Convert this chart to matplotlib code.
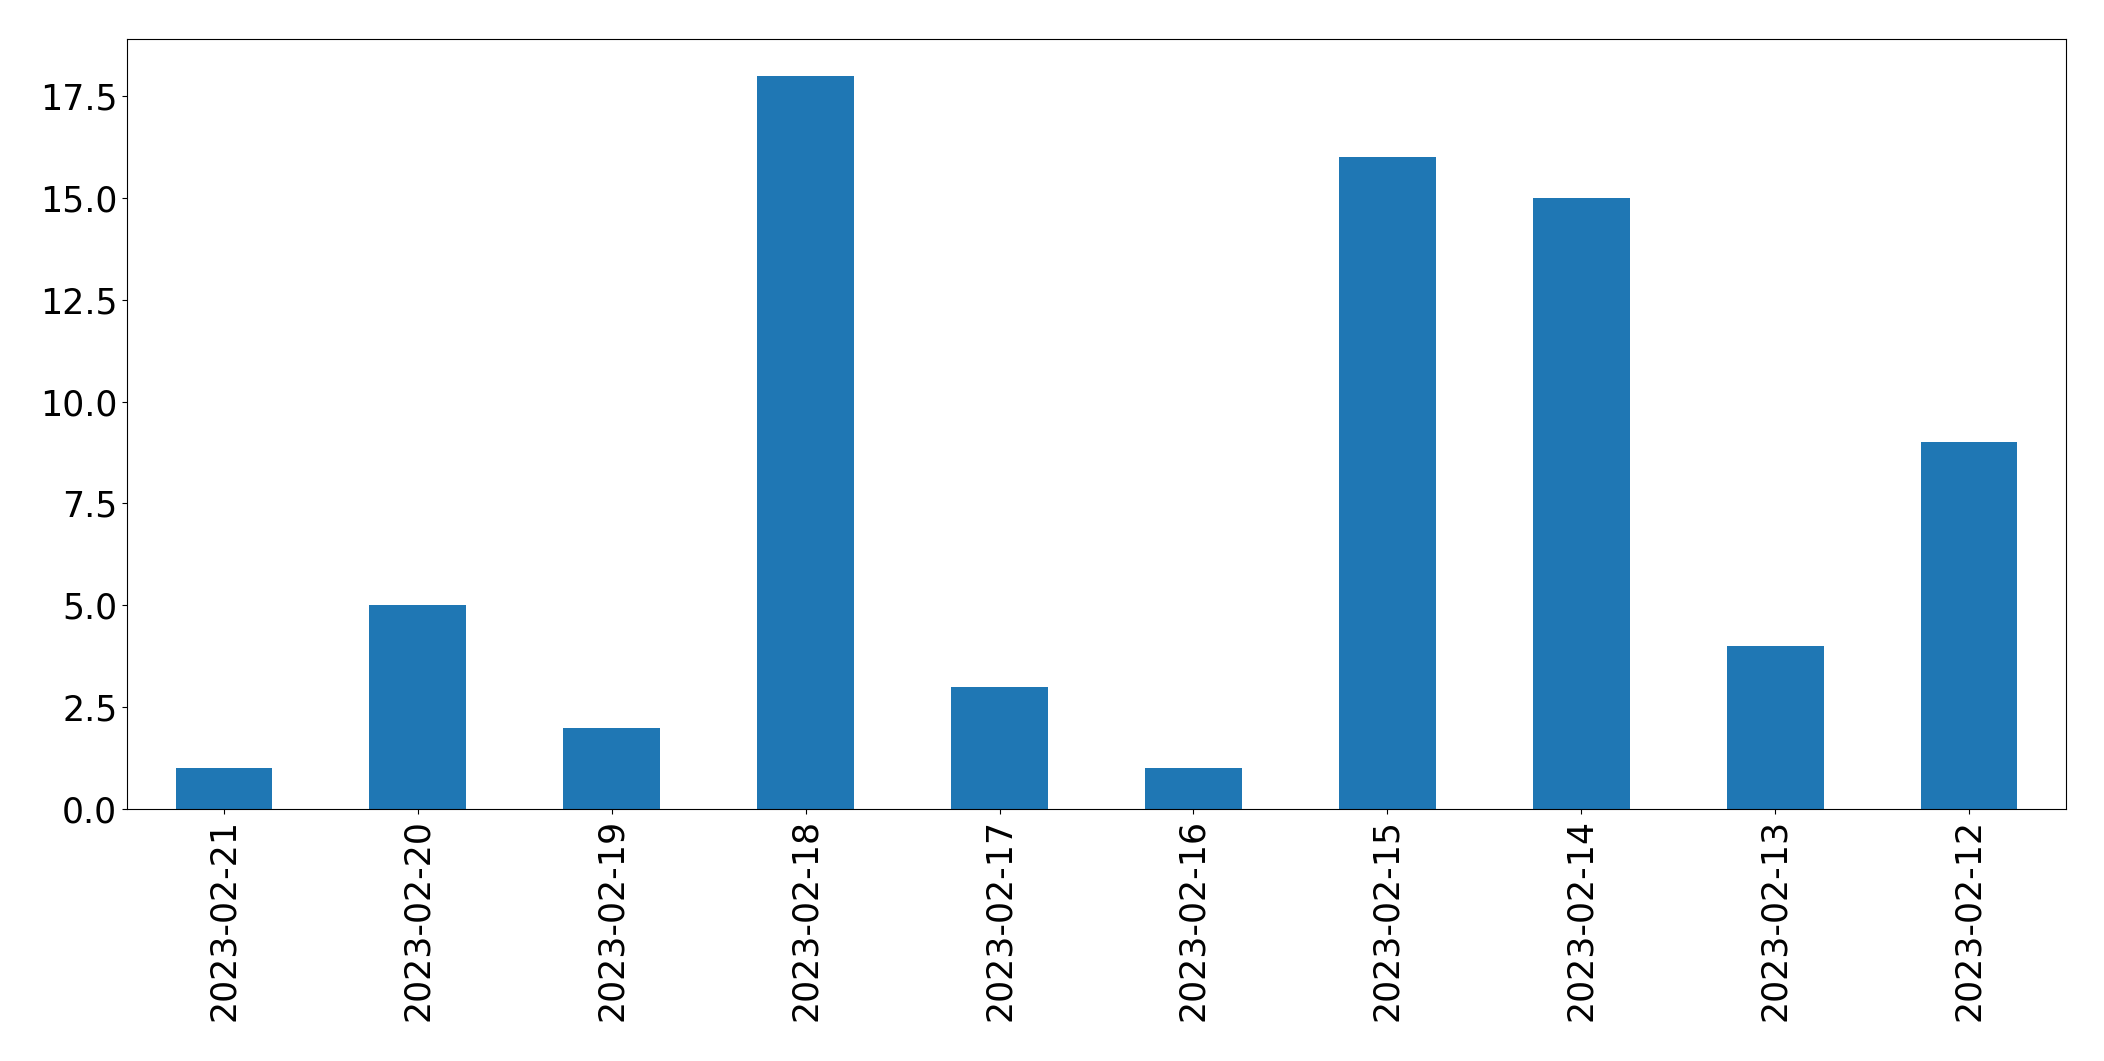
import matplotlib
matplotlib.use("Agg")
import matplotlib.pyplot as plt
import pandas as pd

dates = ["2023-02-21", "2023-02-20", "2023-02-19", "2023-02-18", "2023-02-17",
         "2023-02-16", "2023-02-15", "2023-02-14", "2023-02-13", "2023-02-12"]
counts = [1, 5, 2, 18, 3, 1, 16, 15, 4, 9]

plt.rcParams['font.size'] = 25

s = pd.Series(counts, index=dates)

fig = plt.figure(figsize=(21.04, 10.61), dpi=100)
ax = fig.add_subplot(111)
s.plot.bar(ax=ax, color='#1f77b4')
fig.subplots_adjust(left=0.0604, right=0.9819, top=0.9632, bottom=0.2375)

plt.savefig("out.png", dpi=100)
